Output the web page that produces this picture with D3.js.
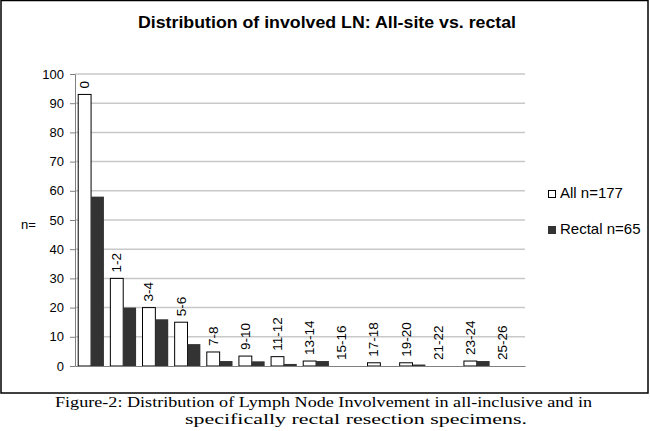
<!DOCTYPE html>
<html lang="en">
<head>
  <meta charset="UTF-8">
  <title>Distribution of involved LN</title>
  <script src="https://d3js.org/d3.v7.min.js"></script>
  <style>
    body {
      margin: 0;
      background: #ffffff;
    }

    svg {
      display: block;
      font-family: "Liberation Sans", Arial, sans-serif;
    }

    .grid line {
      stroke: #c8c8c8;
      stroke-width: 1.5;
    }

    .axis path,
    .axis line {
      stroke: #808080;
    }

    .axis text {
      fill: #000;
      font-size: 13px;
      font-family: "Liberation Sans", Arial, sans-serif;
    }

    .bar-all {
      fill: #ffffff;
      stroke: #000;
      stroke-width: 1;
    }

    .bar-rectal {
      fill: #333333;
    }

    .cat-label {
      font-size: 13.5px;
    }

    .caption {
      font-family: "Liberation Serif", "Times New Roman", serif;
      font-size: 15px;
    }
  </style>
</head>
<body>
  <script>
    const categories = ["0", "1-2", "3-4", "5-6", "7-8", "9-10", "11-12", "13-14",
      "15-16", "17-18", "19-20", "21-22", "23-24", "25-26"];
    const allValues = [93, 30, 20, 15, 4.8, 3.4, 3.2, 1.7, 0, 1.1, 1.1, 0, 1.7, 0];
    const rectalValues = [58, 20, 16, 7.5, 1.7, 1.6, 0.7, 1.7, 0, 0, 0.5, 0, 1.7, 0];
    const yTicks = [0, 10, 20, 30, 40, 50, 60, 70, 80, 90, 100];
    const seriesNames = ["All n=177", "Rectal n=65"];

    const W = 650, H = 431;
    const plot = {left: 75, right: 525, top: 74, bottom: 366};

    const svg = d3.select("body").append("svg")
      .attr("width", W)
      .attr("height", H);

    // outer frame
    svg.append("rect")
      .attr("x", 1)
      .attr("y", 0.5)
      .attr("width", 647)
      .attr("height", 392.5)
      .attr("fill", "none")
      .attr("stroke", "#000")
      .attr("stroke-width", 1.5);

    const x0 = d3.scaleBand()
      .domain(categories)
      .range([plot.left, plot.right])
      .paddingInner(0.2)
      .paddingOuter(0.1);

    const x1 = d3.scaleBand()
      .domain(["all", "rectal"])
      .range([0, x0.bandwidth()]);

    const y = d3.scaleLinear()
      .domain([0, 100])
      .range([plot.bottom, plot.top]);

    // gridlines
    svg.append("g")
      .attr("class", "grid")
      .selectAll("line")
      .data(yTicks.filter(d => d > 0))
      .enter().append("line")
      .attr("x1", plot.left)
      .attr("x2", plot.right)
      .attr("y1", d => y(d))
      .attr("y2", d => y(d));

    const rows = categories.map((c, i) => ({cat: c, all: allValues[i], rectal: rectalValues[i]}));

    const groups = svg.append("g")
      .selectAll("g")
      .data(rows)
      .enter().append("g")
      .attr("transform", d => "translate(" + x0(d.cat) + ",0)");

    groups.append("rect")
      .attr("class", "bar-all")
      .attr("x", x1("all"))
      .attr("width", x1.bandwidth())
      .attr("y", d => y(d.all))
      .attr("height", d => y(0) - y(d.all));

    groups.append("rect")
      .attr("class", "bar-rectal")
      .attr("x", x1("rectal"))
      .attr("width", x1.bandwidth())
      .attr("y", d => y(d.rectal))
      .attr("height", d => y(0) - y(d.rectal));

    groups.append("text")
      .attr("class", "cat-label")
      .attr("transform", d => "translate(" + (x1("all") + x1.bandwidth() / 2) + "," + (y(d.all) - 6) + ") rotate(-90)")
      .attr("dominant-baseline", "central")
      .attr("text-anchor", "start")
      .text(d => d.cat);

    // axes
    svg.append("g")
      .attr("class", "axis")
      .attr("transform", "translate(" + plot.left + ",0)")
      .call(d3.axisLeft(y).tickValues(yTicks).tickSizeInner(5).tickSizeOuter(0).tickPadding(6));

    svg.append("g")
      .attr("class", "axis")
      .attr("transform", "translate(0," + plot.bottom + ")")
      .call(d3.axisBottom(x0).tickSize(0).tickFormat(""));

    svg.append("text")
      .attr("x", 21)
      .attr("y", 226)
      .attr("dominant-baseline", "middle")
      .style("font-size", "13px")
      .text("n=");

    // legend
    const legend = svg.append("g")
      .selectAll("g")
      .data(seriesNames)
      .enter().append("g")
      .attr("transform", (d, i) => "translate(548," + (194 + i * 36) + ")");

    legend.append("rect")
      .attr("x", 0.5)
      .attr("y", -3.5)
      .attr("width", 7)
      .attr("height", 7)
      .attr("fill", (d, i) => i === 0 ? "#fff" : "#333")
      .attr("stroke", (d, i) => i === 0 ? "#000" : "#333");

    legend.append("text")
      .attr("x", 12)
      .attr("y", 0)
      .attr("dominant-baseline", "middle")
      .style("font-size", "15px")
      .text(d => d);

    // title
    svg.append("text")
      .attr("x", 138)
      .attr("y", 28)
      .attr("textLength", 378)
      .attr("lengthAdjust", "spacingAndGlyphs")
      .style("font-size", "16.5px")
      .style("font-weight", "bold")
      .text("Distribution of involved LN: All-site vs. rectal");

    // caption
    svg.append("text")
      .attr("class", "caption")
      .attr("x", 55)
      .attr("y", 407)
      .attr("textLength", 537)
      .attr("lengthAdjust", "spacingAndGlyphs")
      .text("Figure-2: Distribution of Lymph Node Involvement in all-inclusive and in");

    svg.append("text")
      .attr("class", "caption")
      .attr("x", 185)
      .attr("y", 424)
      .attr("textLength", 342)
      .attr("lengthAdjust", "spacingAndGlyphs")
      .text("specifically rectal resection specimens.");
  </script>
</body>
</html>
